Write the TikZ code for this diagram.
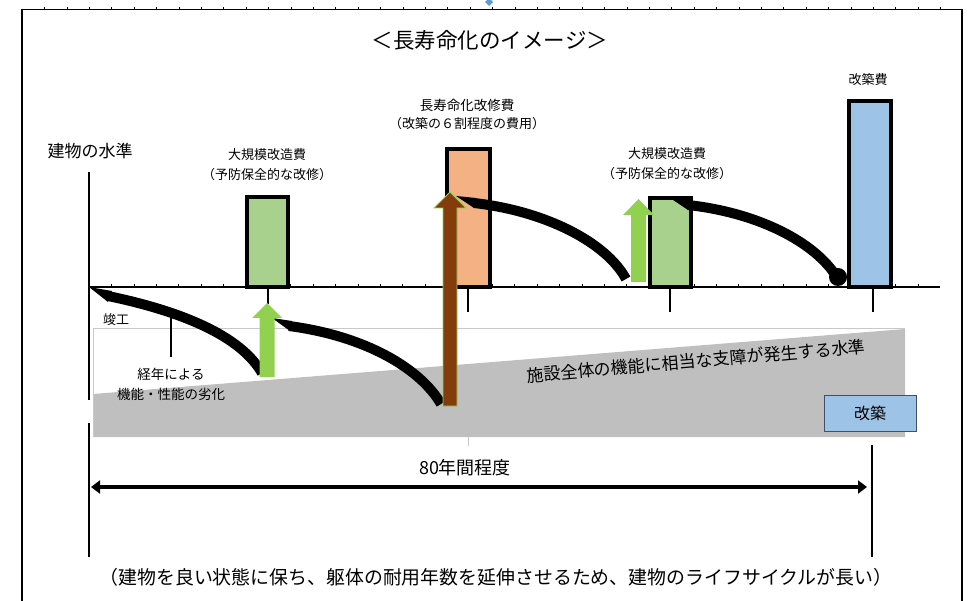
\documentclass[tikz,border=0pt]{standalone}
\usepackage{fontspec}
\setmainfont{Noto Sans CJK JP}
\usetikzlibrary{arrows.meta}
\definecolor{barGreen}{HTML}{A9D18E}
\definecolor{barOrange}{HTML}{F4B183}
\definecolor{barBlue}{HTML}{9DC3E6}
\definecolor{arrGreen}{HTML}{92D050}
\definecolor{arrBrown}{HTML}{843C0C}
\definecolor{zone}{HTML}{BFBFBF}
\definecolor{zoneLine}{HTML}{C8C8C8}
\definecolor{markBlue}{HTML}{5B9BD5}
\definecolor{boxLine}{HTML}{41506A}
\tikzset{
  lbl/.style={font=\fontsize{13}{15}\selectfont, inner sep=0pt},
  barbox/.style={draw=black, line width=4pt},
  agecurve/.style={line width=10pt, line cap=butt},
  tickmark/.style={line width=2pt},
}
\begin{document}
\begin{tikzpicture}[x=1pt,y=-1pt]
\useasboundingbox (0,0) rectangle (971,601);
% outer frame
\draw[line width=1.5pt] (22,601) -- (22,9.5) -- (962,9.5) -- (962,601);
\foreach \i in {1,...,41} \draw[line width=0.6pt] ({22+22.4*\i},9.5) -- ++(0,-2.5);
\fill[markBlue] (489,-2) -- (493,2) -- (489,6) -- (485,2) -- cycle;
% title
\node (title) at (490,40) {\fontsize{21.5}{24}\selectfont ＜長寿命化のイメージ＞};
% grey zone
\fill[zone] (93,394) -- (905,329) -- (905,437) -- (93,437) -- cycle;
\draw[zoneLine, line width=1pt] (93,437) -- (93,328) -- (905,328);
% axes
\draw[line width=1.2pt] (89,172) -- (89,400);
\draw[line width=1.2pt] (89,423) -- (89,557);
\draw[line width=1.2pt] (872,445) -- (872,557);
\draw[zoneLine, line width=1pt] (468,437) -- (468,446);
\draw[line width=2pt] (89,287) -- (940,287);
\foreach \i in {1,...,37} \draw[line width=0.5pt] ({89+22.4*\i},287) -- ++(0,-3);
\draw[tickmark] (268,287) -- (268,304);
\draw[tickmark] (468,287) -- (468,312);
\draw[tickmark] (670,287) -- (670,312);
\draw[tickmark] (873,287) -- (873,312);
% bars
\draw[barbox, fill=barGreen] (247,287) rectangle (288,197);
\draw[barbox, fill=barOrange] (447,287) rectangle (490,149);
\draw[barbox, fill=barGreen] (650,287) rectangle (691,198);
\draw[barbox, fill=barBlue] (849,287) rectangle (891,101);
% deterioration curves
\fill (89,287) -- (112,291) -- (108,302) -- cycle;
\draw[agecurve] (108,296) .. controls (180,311) and (240,335) .. (262,373);
\fill (272,318) -- (292,321) -- (290,331) -- cycle;
\draw[agecurve] (289,326) .. controls (365,336) and (420,368) .. (441,404);
\fill (456,196) -- (476,198) -- (474,208) -- cycle;
\draw[agecurve] (474,203) .. controls (545,211) and (606,242) .. (626,279);
\fill (670,198) -- (690,200) -- (688,210) -- cycle;
\draw[agecurve] (688,205) .. controls (760,213) and (815,243) .. (836,276);
\node[circle, fill=black, inner sep=0pt, minimum size=18pt] (endpt) at (838,277) {};
% improvement arrows
\fill[arrGreen] (259.5,377) -- (259.5,318) -- (252,318) -- (267,303) -- (282,318) -- (274.5,318) -- (274.5,377) -- cycle;
\filldraw[fill=arrBrown, draw=arrGreen, line width=0.8pt] (443,406) -- (443,208) -- (434,208) -- (450,192) -- (466,208) -- (457,208) -- (457,406) -- cycle;
\fill[arrGreen] (631,282) -- (631,215) -- (623,215) -- (638.5,199) -- (654,215) -- (646,215) -- (646,282) -- cycle;
% labels
\node (ylab) at (90,151) {\fontsize{17}{19}\selectfont 建物の水準};
\node[lbl] (l1a) at (267,155) {大規模改造費};
\node[lbl] (l1b) at (267,175) {（予防保全的な改修）};
\node[lbl, font=\fontsize{13.5}{15}\selectfont] (l2a) at (467,105) {長寿命化改修費};
\node[lbl] (l2b) at (467,124) {（改築の６割程度の費用）};
\node[lbl] (l3a) at (667,154) {大規模改造費};
\node[lbl] (l3b) at (667,174) {（予防保全的な改修）};
\node[lbl] (l4) at (868,80) {改築費};
\node[lbl] (done) at (116,320) {竣工};
\draw[line width=1.2pt] (171,317) -- (171,357);
\node[lbl, font=\fontsize{13.5}{15}\selectfont] (age1) at (171,374) {経年による};
\node[lbl, font=\fontsize{13.5}{15}\selectfont] (age2) at (171,394) {機能・性能の劣化};
\node[lbl, font=\fontsize{17}{19}\selectfont, rotate=5] (limit) at (696,361) {施設全体の機能に相当な支障が発生する水準};
\node[draw=boxLine, fill=barBlue, line width=1pt, minimum width=92pt, minimum height=36pt, inner sep=0pt, font=\fontsize{16}{18}\selectfont] (rebuild) at (870,413) {改築};
% span arrow
\coordinate (spanL) at (91,487);
\coordinate (spanR) at (867,487);
\draw[line width=4pt, {Triangle[length=9pt,width=13pt]}-{Triangle[length=9pt,width=13pt]}] (spanL) -- (spanR);
\node (span) at (465,468) {\fontsize{18}{20}\selectfont 80年間程度};
\node (note) at (496,577) {\fontsize{18.9}{20}\selectfont （建物を良い状態に保ち、躯体の耐用年数を延伸させるため、建物のライフサイクルが長い）};
\end{tikzpicture}
\end{document}
